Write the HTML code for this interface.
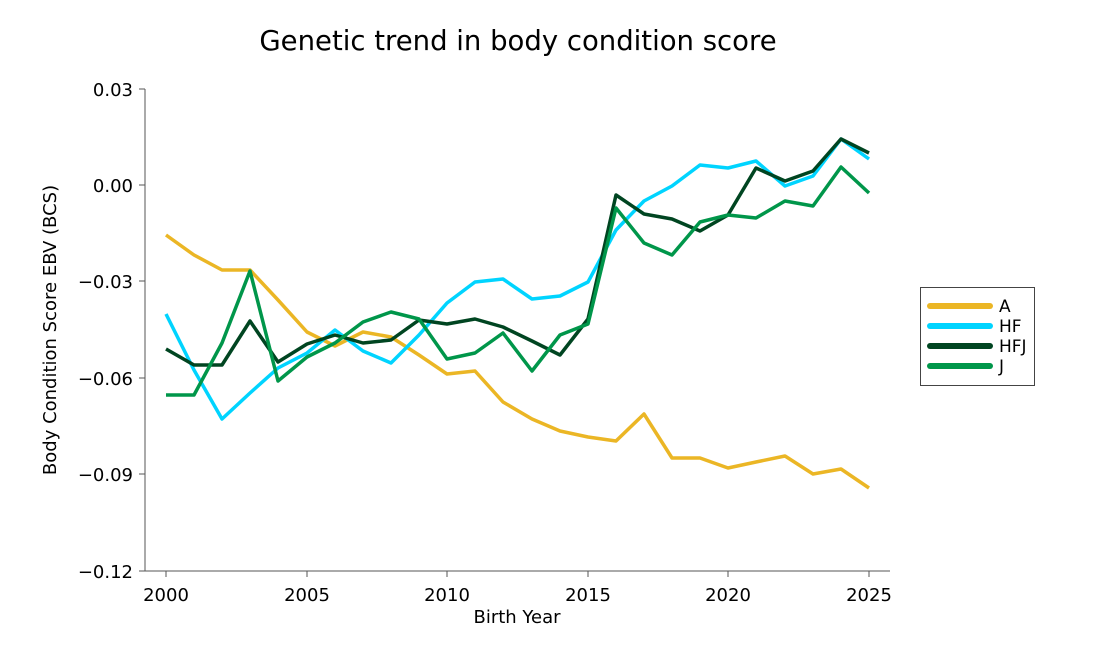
<!DOCTYPE html>
<html><head><meta charset="utf-8"><style>body{margin:0;background:#fff}svg{display:block}text{font-family:"DejaVu Sans","Liberation Sans",sans-serif;fill:#000}</style></head><body>
<svg width="1100" height="672" viewBox="0 0 1100 672">
<text x="518" y="50" font-size="27.5" text-anchor="middle">Genetic trend in body condition score</text>
<g stroke="#555" stroke-width="1" fill="none">
<path d="M145 89V571H890"/>
<path d="M139 89H145M139 185H145M139 281H145M139 378H145M139 474H145M139 571H145"/>
<path d="M166 571V577M307 571V577M447 571V577M588 571V577M728 571V577M869 571V577"/>
</g>
<g font-size="18" text-anchor="end">
<text x="133" y="96">0.03</text><text x="133" y="192">0.00</text><text x="133" y="288">−0.03</text><text x="133" y="385">−0.06</text><text x="133" y="481">−0.09</text><text x="133" y="578">−0.12</text>
</g>
<g font-size="18" text-anchor="middle">
<text x="166" y="601">2000</text><text x="307" y="601">2005</text><text x="447" y="601">2010</text><text x="588" y="601">2015</text><text x="728" y="601">2020</text><text x="869" y="601">2025</text>
<text x="517" y="623">Birth Year</text>
<text transform="translate(56,330) rotate(-90)">Body Condition Score EBV (BCS)</text>
</g>
<g fill="none" stroke-width="3.5" stroke-linejoin="round">
<polyline stroke="#EBB625" points="166,235 194,255 222,270 250,270 278,300 307,332 335,346 363,332 391,337 419,355 447,374 475,371 503,402 532,419 560,431 588,437 616,441 644,414 672,458 700,458 728,468 756,462 785,456 813,474 841,469 869,488"/>
<polyline stroke="#00D4FF" points="166,314 194,370 222,419 250,393 278,368 307,353 335,330 363,351 391,363 419,335 447,303 475,282 503,279 532,299 560,296 588,282 616,230 644,201 672,186 700,165 728,168 756,161 785,186 813,176 841,139 869,159"/>
<polyline stroke="#004521" points="166,349 194,365 222,365 250,321 278,362 307,344 335,335 363,343 391,340 419,320 447,324 475,319 503,327 532,341 560,355 588,319 616,195 644,214 672,219 700,231 728,215 756,168 785,181 813,171 841,139 869,153"/>
<polyline stroke="#00964A" points="166,395 194,395 222,343 250,271 278,381 307,357 335,343 363,322 391,312 419,319 447,359 475,353 503,333 532,371 560,335 588,324 616,208 644,243 672,255 700,222 728,215 756,218 785,201 813,206 841,167 869,193"/>
</g>
<rect x="920.5" y="287.5" width="114" height="98" fill="#fff" stroke="#444" stroke-width="1"/>
<g stroke-width="6" stroke-linecap="round">
<line x1="930" y1="306" x2="990" y2="306" stroke="#EBB625"/>
<line x1="930" y1="326" x2="990" y2="326" stroke="#00D4FF"/>
<line x1="930" y1="346" x2="990" y2="346" stroke="#004521"/>
<line x1="930" y1="366" x2="990" y2="366" stroke="#00964A"/>
</g>
<g font-size="17">
<text x="999" y="312">A</text><text x="999" y="332">HF</text><text x="999" y="352">HFJ</text><text x="999" y="372">J</text>
</g>
</svg>
</body></html>
